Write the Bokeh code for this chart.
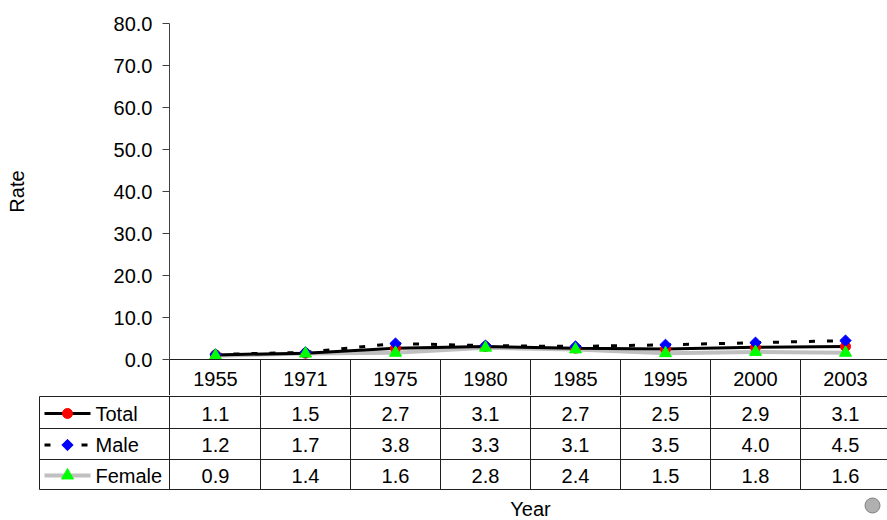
import math
from bokeh.plotting import figure
from bokeh.models import Range1d, LinearAxis, FixedTicker, NumeralTickFormatter
from bokeh.layouts import column
from bokeh.core.properties import value
from bokeh.embed import file_html
from bokeh.resources import INLINE

years = ["1955", "1971", "1975", "1980", "1985", "1995", "2000", "2003"]
total = [1.1, 1.5, 2.7, 3.1, 2.7, 2.5, 2.9, 3.1]
male = [1.2, 1.7, 3.8, 3.3, 3.1, 3.5, 4.0, 4.5]
female = [0.9, 1.4, 1.6, 2.8, 2.4, 1.5, 1.8, 1.6]
series_names = ["Total", "Male", "Female"]
y_ticks = [0, 10, 20, 30, 40, 50, 60, 70, 80]

FONT = "Liberation Sans"
FS = "20px"
PX = 90.0          # pixels per category column
n = len(years)
xc = [i + 0.5 for i in range(n)]
DIAMOND = dict(marker="square", angle=math.pi / 4, size=8, fill_color="blue", line_color="blue")

def ix(img_x):
    # image x pixel -> column units
    return (img_x - 170) / PX

x_end = ix(887)
H1 = 395
bounds_x = [ix(169)] + list(range(1, n + 1))

# ---------------- top: chart + header row (x axis) ----------------
p1 = figure(width=887, height=H1, output_backend="svg", toolbar_location=None,
            x_range=Range1d(ix(169), x_end), y_range=Range1d(0, 80),
            x_axis_location=None, y_axis_location=None,
            min_border_left=169, min_border_right=0, min_border_top=23, min_border_bottom=H1 - 359,
            outline_line_color=None, frame_align=False)
p1.grid.grid_line_color = None
p1.background_fill_color = "white"
p1.border_fill_color = "white"

yax = LinearAxis(ticker=FixedTicker(ticks=y_ticks), formatter=NumeralTickFormatter(format="0.0"),
                 bounds=(0, 80), axis_label="Rate")
yax.axis_line_color = "#404040"
yax.major_tick_line_color = "#404040"
yax.major_tick_out = 7
yax.major_tick_in = 0
yax.minor_tick_out = 0
yax.minor_tick_in = 0
yax.major_label_standoff = 10
yax.major_label_text_font = FONT
yax.major_label_text_font_size = FS
yax.major_label_text_color = "black"
yax.axis_label_text_font = FONT
yax.axis_label_text_font_size = FS
yax.axis_label_text_font_style = "normal"
yax.axis_label_text_color = "black"
yax.axis_label_standoff = 83
p1.add_layout(yax, "left")

# x axis: baseline, year labels at column centres, cell separators as minor ticks
xax = LinearAxis(ticker=FixedTicker(ticks=xc, minor_ticks=bounds_x),
                 major_label_overrides={x: y for x, y in zip(xc, years)})
xax.axis_line_color = "#202020"
xax.major_tick_out = 0
xax.major_tick_in = 0
xax.minor_tick_line_color = "#202020"
xax.minor_tick_out = H1 - 359
xax.minor_tick_in = 0
xax.major_label_standoff = -24
xax.major_label_text_font = FONT
xax.major_label_text_font_size = FS
xax.major_label_text_color = "black"
p1.add_layout(xax, "below")

# series lines
p1.line(xc, female, line_color="#c0c0c0", line_width=4)
p1.line(xc, male, line_color="black", line_width=3, line_dash="6 12")
p1.line(xc, total, line_color="black", line_width=3)
p1.scatter(xc, total, marker="circle", size=10, fill_color="red", line_color="red")
p1.scatter(xc, male, **DIAMOND)
p1.scatter(xc, female, marker="triangle", size=12, fill_color="#00ff00", line_color="#00ff00")

# ---------------- bottom: data table ----------------
H2 = 520 - H1
p2 = figure(width=887, height=H2, output_backend="svg", toolbar_location=None,
            x_range=Range1d(ix(38), x_end), y_range=Range1d(H2, 0),
            x_axis_location=None, y_axis_location=None,
            min_border_left=38, min_border_right=0, min_border_top=0, min_border_bottom=0,
            outline_line_color=None, frame_align=False)
p2.grid.grid_line_color = None
p2.background_fill_color = "white"
p2.border_fill_color = "white"

def iy(img_y):
    return img_y - H1

rows_y = [iy(396), iy(428), iy(459), iy(489)]
p2.segment(x0=[ix(39)] * 4, y0=rows_y, x1=[n] * 4, y1=rows_y, line_color="#202020", line_width=1)
vx = [ix(39)] + bounds_x
p2.segment(x0=vx, y0=[rows_y[0]] * len(vx), x1=vx, y1=[rows_y[-1]] * len(vx),
           line_color="#202020", line_width=1)
p2.segment(x0=bounds_x, y0=[0] * len(bounds_x), x1=bounds_x, y1=[rows_y[0]] * len(bounds_x),
           line_color="#202020", line_width=1)

row_c = [(rows_y[k] + rows_y[k + 1]) / 2 + 1 for k in range(3)]
for vals, yc in zip([total, male, female], row_c):
    p2.text(x=xc, y=[yc] * n, text=["%.1f" % v for v in vals], text_align="center",
            text_baseline="middle", text_font=value(FONT), text_font_size=FS, text_color="black")

p2.text(x=[ix(95)] * 3, y=row_c, text=series_names, text_align="left", text_baseline="middle",
        text_font=value(FONT), text_font_size=FS, text_color="black")

# legend keys
lx = [ix(44), ix(90)]
p2.line(lx, [row_c[0]] * 2, line_color="black", line_width=3)
p2.scatter([ix(67)], [row_c[0]], marker="circle", size=10, fill_color="red", line_color="red")
p2.line(lx, [row_c[1]] * 2, line_color="black", line_width=3, line_dash="6 31")
p2.scatter([ix(67)], [row_c[1]], **DIAMOND)
p2.line(lx, [row_c[2]] * 2, line_color="#c0c0c0", line_width=4)
p2.scatter([ix(67)], [row_c[2]], marker="triangle", size=12, fill_color="#00ff00", line_color="#00ff00")

# x axis title
p2.text(x=[n / 2], y=[iy(508)], text=["Year"], text_align="center", text_baseline="middle",
        text_font=value(FONT), text_font_size=FS, text_color="black")

# small emblem at bottom right
p2.scatter([ix(872)], [iy(505)], marker="circle", size=15, fill_color="#b0b0b0", line_color="#808080")

layout = column(p1, p2, spacing=0)
open("out.html", "w").write(file_html(layout, INLINE))
